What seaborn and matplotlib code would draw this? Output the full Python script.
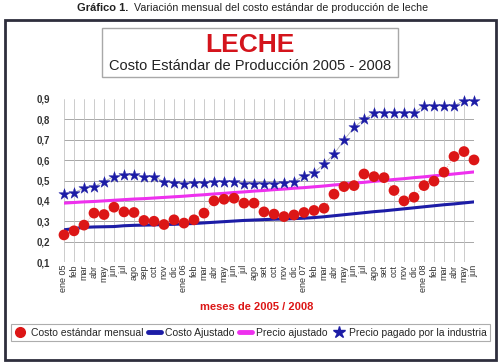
import numpy as np
import pandas as pd
import matplotlib
matplotlib.use('Agg')
import matplotlib.pyplot as plt
import seaborn as sns
from matplotlib.lines import Line2D
from matplotlib.patches import Rectangle

# meses ene 2005 - jun 2008
meses = ['ene 05', 'feb', 'mar', 'abr', 'may', 'jun', 'jul', 'ago', 'sep', 'oct', 'nov', 'dic',
         'ene 06', 'feb', 'mar', 'abr', 'may', 'jun', 'jul', 'ago', 'set', 'oct', 'nov', 'dic',
         'ene 07', 'feb', 'mar', 'abr', 'may', 'jun', 'jul', 'ago', 'set', 'oct', 'nov', 'dic',
         'ene 08', 'feb', 'mar', 'abr', 'may', 'jun']

costo_mensual = [0.233, 0.253, 0.281, 0.340, 0.333, 0.369, 0.346, 0.343, 0.304, 0.300, 0.284, 0.307,
                 0.291, 0.307, 0.340, 0.400, 0.408, 0.413, 0.389, 0.389, 0.346, 0.335, 0.323, 0.331,
                 0.343, 0.353, 0.364, 0.433, 0.470, 0.475, 0.532, 0.519, 0.514, 0.451, 0.400, 0.418,
                 0.475, 0.497, 0.541, 0.618, 0.642, 0.601]

costo_ajustado = [0.258, 0.264, 0.270, 0.272, 0.273, 0.274, 0.278, 0.280, 0.281, 0.282, 0.284, 0.285,
                  0.287, 0.289, 0.292, 0.295, 0.298, 0.301, 0.304, 0.306, 0.308, 0.310, 0.311, 0.313,
                  0.315, 0.318, 0.322, 0.327, 0.332, 0.337, 0.342, 0.347, 0.351, 0.356, 0.361, 0.366,
                  0.371, 0.376, 0.381, 0.385, 0.390, 0.395]

precio_ajustado = [0.389, 0.392, 0.395, 0.397, 0.400, 0.403, 0.406, 0.409, 0.411, 0.414, 0.417, 0.420,
                   0.423, 0.427, 0.430, 0.434, 0.437, 0.441, 0.444, 0.448, 0.451, 0.455, 0.458, 0.462,
                   0.465, 0.469, 0.473, 0.478, 0.482, 0.487, 0.491, 0.496, 0.500, 0.505, 0.509, 0.514,
                   0.518, 0.523, 0.527, 0.532, 0.537, 0.542]

precio_industria = [0.434, 0.441, 0.462, 0.470, 0.495, 0.519, 0.526, 0.526, 0.519, 0.519, 0.495, 0.487,
                    0.483, 0.487, 0.487, 0.495, 0.495, 0.495, 0.483, 0.483, 0.483, 0.483, 0.490, 0.495,
                    0.523, 0.539, 0.581, 0.630, 0.698, 0.761, 0.800, 0.833, 0.833, 0.833, 0.833, 0.833,
                    0.867, 0.867, 0.867, 0.867, 0.892, 0.892]

df = pd.DataFrame({'i': range(len(meses)), 'costo_mensual': costo_mensual,
                   'costo_ajustado': costo_ajustado, 'precio_ajustado': precio_ajustado,
                   'precio_industria': precio_industria})

sns.set_style('white')
plt.rcParams['font.family'] = ['Liberation Sans', 'DejaVu Sans']

ROJO = '#dc1616'
AZUL = '#1c1ca6'
MAGENTA = '#ee30ee'

fig = plt.figure(figsize=(5, 3.64), dpi=100)
ax = fig.add_axes([64 / 500, 1 - 262 / 364, 410 / 500, 163 / 364])

sns.lineplot(data=df, x='i', y='costo_ajustado', color=AZUL, lw=2.2, ax=ax, legend=False)
sns.lineplot(data=df, x='i', y='precio_ajustado', color=MAGENTA, lw=2.2, ax=ax, legend=False)
sns.lineplot(data=df, x='i', y='costo_mensual', color='#f2a6a6', lw=0.7, ls=':', ax=ax, legend=False)
sns.scatterplot(data=df, x='i', y='costo_mensual', color=ROJO, s=60, edgecolor='none',
                zorder=5, clip_on=False, ax=ax, legend=False)
sns.lineplot(data=df, x='i', y='precio_industria', color='#b0b0b0', lw=0.6, ax=ax, legend=False)
sns.scatterplot(data=df, x='i', y='precio_industria', marker='*', color=AZUL, s=72, edgecolor=AZUL,
                linewidth=0.3, zorder=6, clip_on=False, ax=ax, legend=False)

ax.set_xlim(0, len(meses) - 1)
ax.set_ylim(0.1, 0.9)
ax.set_xlabel('')
ax.set_ylabel('')
ax.set_xticks(range(len(meses)))
ax.set_xticklabels(meses, rotation=90, fontsize=6.5, color='#333333')
yt = np.round(np.arange(0.1, 0.91, 0.1), 1)
ax.set_yticks(yt)
ax.set_yticklabels([f'{v:.1f}'.replace('.', ',') for v in yt], fontsize=7, weight='bold', color='#333333')
ax.tick_params(axis='y', length=0, pad=10)
ax.tick_params(axis='x', length=0, pad=2)
for s in ax.spines.values():
    s.set_visible(False)
ax.set_axisbelow(True)
ax.grid(axis='x', color='#c4c4c4', lw=0.6)
for v in yt[:-1]:
    ax.axhline(v, color='#a8a8a8', lw=0.7, zorder=0)

# titulo de la figura
narrow = ['Liberation Sans Narrow', 'Liberation Sans', 'DejaVu Sans']
fig.text(77 / 500, 1 - 8 / 364, 'Gráfico 1.', weight='bold', fontsize=8, va='center',
         family=narrow, color='#222222')
fig.text(134 / 500, 1 - 8 / 364, 'Variación mensual del costo estándar de producción de leche',
         fontsize=7.7, va='center', family=narrow, color='#222222')

# marco exterior y recuadro del titulo
fig.patches.append(Rectangle((5 / 500, 1 - 360 / 364), 491 / 500, 340 / 364, transform=fig.transFigure,
                             fill=False, edgecolor='#2e2e3c', lw=2))
fig.patches.append(Rectangle((102 / 500, 1 - 77 / 364), 296 / 500, 49 / 364, transform=fig.transFigure,
                             fill=False, edgecolor='#a8a8a8', lw=1))
fig.text(0.5, 1 - 45 / 364, 'LECHE', color='#d4141c', weight='bold', fontsize=19,
         ha='center', va='center')
fig.text(0.5, 1 - 66.5 / 364, 'Costo Estándar de Producción 2005 - 2008', fontsize=10.5,
         ha='center', va='center', color='#222222')

fig.text(257 / 500, 1 - 307 / 364, 'meses de 2005 / 2008', color=ROJO, weight='bold', fontsize=8,
         ha='center', va='center')

handles = [Line2D([], [], marker='o', color=ROJO, ls='none', markersize=7),
           Line2D([], [], color=AZUL, lw=3.5),
           Line2D([], [], color=MAGENTA, lw=3.5),
           Line2D([], [], marker='*', color=AZUL, ls='none', markersize=9)]
labels = ['Costo estándar mensual', 'Costo Ajustado', 'Precio ajustado', 'Precio pagado por la industria']
leg = fig.legend(handles, labels, loc='center', bbox_to_anchor=(11 / 500, 1 - 341 / 364, 479 / 500, 17 / 364),
                 mode='expand', ncol=4, frameon=True, fancybox=False, edgecolor='#999999',
                 fontsize=7.5, handlelength=1.2, handletextpad=0.4, borderpad=0.3, columnspacing=1.0,
                 borderaxespad=0)
leg.get_frame().set_linewidth(0.8)

fig.savefig('out.png', dpi=100)
